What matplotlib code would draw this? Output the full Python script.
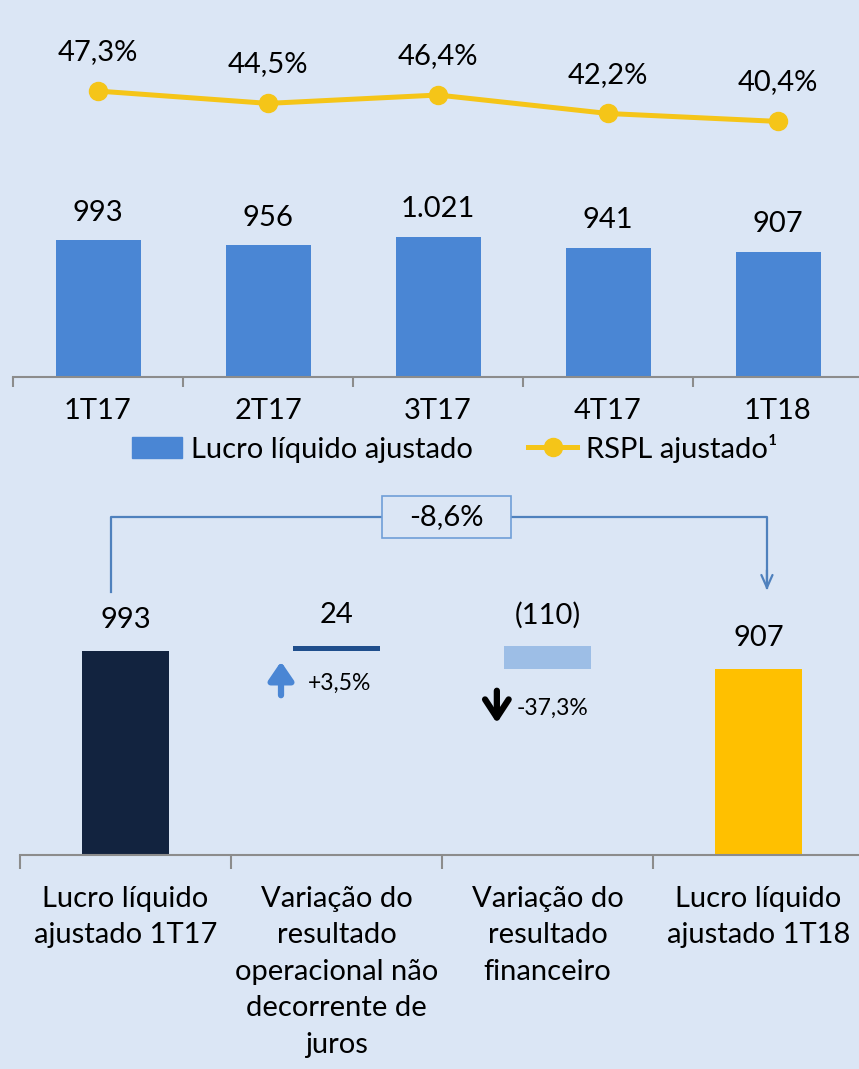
import matplotlib.pyplot as plt
from matplotlib.patches import Patch, Rectangle
from matplotlib.lines import Line2D
import numpy as np

plt.rcParams['font.family'] = ['Lato', 'DejaVu Sans']

# top chart
quarters = ['1T17', '2T17', '3T17', '4T17', '1T18']
lucro = [993, 956, 1021, 941, 907]
rspl = [47.3, 44.5, 46.4, 42.2, 40.4]
lucro_lbl = ['993', '956', '1.021', '941', '907']
rspl_lbl = ['47,3%', '44,5%', '46,4%', '42,2%', '40,4%']

# bottom chart (bridge)
steps = ['Lucro líquido\najustado 1T17',
         'Variação do\nresultado\noperacional não\ndecorrente de\njuros',
         'Variação do\nresultado\nfinanceiro',
         'Lucro líquido\najustado 1T18']
step_vals = [993, 24, -110, 907]
step_lbl = ['993', '24', '(110)', '907']
step_pct = [None, '+3,5%', '-37,3%', None]
total_var = '-8,6%'

bg = '#dbe6f5'
blue = '#4a86d4'
gold = '#f5c518'
axc = '#8c8c8c'
fs = 21

fig = plt.figure(figsize=(8.59, 10.69), dpi=100, facecolor=bg)
W, H = 859, 1069

def px_axes(x0, y0, x1, y1):
    return fig.add_axes([x0 / W, 1 - y1 / H, (x1 - x0) / W, (y1 - y0) / H])

# ---------- top ----------
ax = px_axes(13, 0, 863, 377)
ax.set_facecolor('none')
x = np.arange(len(quarters))
ax.bar(x, lucro, width=0.5, color=blue, zorder=2)
ax.set_xlim(-0.5, len(quarters) - 0.5)
ax.set_ylim(0, 2740)
for xi, v, s in zip(x, lucro, lucro_lbl):
    ax.annotate(s, (xi, v), xytext=(0, 20), textcoords='offset points',
                ha='center', va='center', fontsize=fs)
for sp in ['top', 'left', 'right']:
    ax.spines[sp].set_visible(False)
ax.spines['bottom'].set_color(axc)
ax.spines['bottom'].set_linewidth(1.5)
ax.set_yticks([])
ax.set_xticks(x)
ax.set_xticklabels(quarters, fontsize=fs)
ax.tick_params(axis='x', which='major', length=0, pad=15)
ax.set_xticks(np.arange(len(quarters) + 1) - 0.5, minor=True)
ax.tick_params(axis='x', which='minor', length=7, width=1.5, color=axc)

ax2 = ax.twinx()
ax2.plot(x, rspl, color=gold, lw=3.6, marker='o', ms=13, zorder=3)
ax2.set_ylim(-17.7, 68.0)
ax2.axis('off')
for xi, v, s in zip(x, rspl, rspl_lbl):
    ax2.annotate(s, (xi, v), xytext=(0, 28), textcoords='offset points',
                 ha='center', va='center', fontsize=fs)

handles = [Patch(color=blue, label='Lucro líquido ajustado'),
           Line2D([], [], color=gold, lw=3.6, marker='o', ms=13,
                  label='RSPL ajustado¹')]
fig.legend(handles=handles, loc='center', bbox_to_anchor=(455 / W, 1 - 448 / H),
           ncol=2, frameon=False, fontsize=fs, handlelength=1.7,
           handletextpad=0.3, columnspacing=1.9)

# ---------- bottom ----------
bx = px_axes(20, 480, 864, 855)
bx.set_facecolor('none')
xs = np.arange(len(steps))
bottoms = [0, step_vals[0], step_vals[0] + step_vals[1] + step_vals[2], 0]
heights = [step_vals[0], step_vals[1], -step_vals[2], step_vals[3]]
cols = ['#12233f', '#1f4e8c', '#9dbee6', '#ffc000']
bx.bar(xs, heights, bottom=bottoms, width=0.41, color=cols, zorder=2)
bx.set_xlim(-0.5, len(steps) - 0.5)
bx.set_ylim(0, 1825)
tops = [b + h for b, h in zip(bottoms, heights)]
for xi, t, s in zip(xs, tops, step_lbl):
    bx.annotate(s, (xi, t), xytext=(0, 22), textcoords='offset points',
                ha='center', va='center', fontsize=fs)

# variation arrows
bx.annotate('', xy=(0.737, 955), xytext=(0.737, 764),
            arrowprops=dict(arrowstyle='-|>,head_width=0.75,head_length=1.1',
                            color=blue, lw=4.5, capstyle='round'))
bx.text(0.865, 837, step_pct[1], fontsize=16.5, va='center', ha='left')
bx.annotate('', xy=(1.76, 628), xytext=(1.76, 813),
            arrowprops=dict(arrowstyle='->,head_width=0.85,head_length=1.3',
                            color='black', lw=4.5))
bx.text(1.855, 716, step_pct[2], fontsize=16.5, va='center', ha='left')

# total variation bracket
yb = 1645
bx.plot([-0.069, -0.069, 3.04, 3.04], [1280, yb, yb, 1300],
        color='#4f81bd', lw=1.6, zorder=1)
bx.annotate('', xy=(3.04, 1275), xytext=(3.04, 1400),
            arrowprops=dict(arrowstyle='->,head_width=0.4,head_length=0.9',
                            color='#4f81bd', lw=1.6))
bw, bh = 0.61, 204
bx.add_patch(Rectangle((1.52 - bw / 2, yb - bh / 2), bw, bh, fc=bg,
                       ec='#6f9fd8', lw=1.2, zorder=3))
bx.text(1.52, yb, total_var, ha='center', va='center', fontsize=fs, zorder=4)

for sp in ['top', 'left', 'right']:
    bx.spines[sp].set_visible(False)
bx.spines['bottom'].set_color(axc)
bx.spines['bottom'].set_linewidth(1.5)
bx.set_yticks([])
bx.set_xticks(xs)
bx.set_xticklabels(steps, fontsize=fs, linespacing=1.5, va='top')
bx.tick_params(axis='x', which='major', length=0, pad=22)
bx.set_xticks(np.arange(len(steps) + 1) - 0.5, minor=True)
bx.tick_params(axis='x', which='minor', length=10, width=1.5, color=axc)

fig.savefig('out.png', dpi=100, facecolor=bg)
